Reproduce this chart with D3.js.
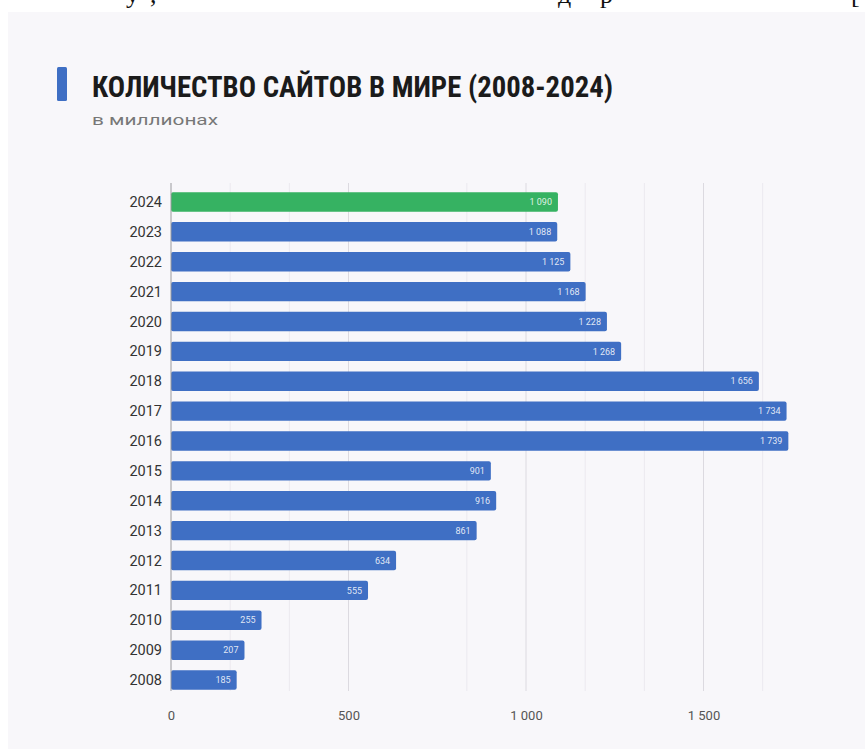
<!DOCTYPE html>
<html>
<head>
<meta charset="utf-8">
<script src="https://cdn.jsdelivr.net/npm/d3@7"></script>
<style>
  html, body { margin: 0; padding: 0; background: #fff; }
  svg { display: block; }
</style>
</head>
<body>
<div id="graph"></div>
<script>
var years = ["2024", "2023", "2022", "2021", "2020", "2019", "2018", "2017", "2016",
             "2015", "2014", "2013", "2012", "2011", "2010", "2009", "2008"];
var sites = [1090, 1088, 1125, 1168, 1228, 1268, 1656, 1734, 1739,
             901, 916, 861, 634, 555, 255, 207, 185];
var xTicks = [0, 500, 1000, 1500];
var gridMinor = [500 / 3, 1000 / 3, 2500 / 3, 3500 / 3, 4000 / 3, 5000 / 3];
var highlightYear = "2024";
var title = "КОЛИЧЕСТВО САЙТОВ В МИРЕ (2008-2024)",
	subtitle = "в миллионах";

var SVGwidth = 865,
	SVGheight = 749;

var ru = d3.formatLocale({decimal: ",", thousands: "\u00a0", grouping: [3], currency: ["", ""]});
var fmt = ru.format(",d");

var svg = d3.select('div#graph')
	.append('svg')
	.attr('width', SVGwidth)
	.attr('height', SVGheight);

// panel background
svg.append("rect")
	.attr("x", 8).attr("y", 12)
	.attr("width", SVGwidth - 8).attr("height", SVGheight - 12)
	.attr("fill", "#f8f7fa");

// cut-off text line from the page above
var topText = [["у", 126], [",", 150], ["д", 558], ["р", 600], ["[", 851]];
svg.selectAll("text.cut")
	.data(topText)
	.enter().append("text")
	.attr("class", "cut")
	.attr("x", function(d) { return d[1]; })
	.attr("y", 3)
	.attr("font-family", "Liberation Serif, serif")
	.attr("font-size", 26)
	.attr("fill", "#111")
	.text(function(d) { return d[0]; });

// title
svg.append("rect")
	.attr("x", 57).attr("y", 67)
	.attr("width", 10).attr("height", 34)
	.attr("rx", 1.5)
	.attr("fill", "#3f6fc4");

svg.append("text")
	.attr("x", 92).attr("y", 97)
	.attr("font-family", "'Roboto Condensed', 'Liberation Sans Narrow', 'DejaVu Sans Condensed', Roboto, sans-serif")
	.attr("font-weight", "bold")
	.attr("font-size", 30)
	.attr("fill", "#1b1b1b")
	.attr("textLength", 521)
	.attr("lengthAdjust", "spacingAndGlyphs")
	.text(title);

svg.append("text")
	.attr("x", 92).attr("y", 125)
	.attr("font-family", "Roboto, sans-serif")
	.attr("font-size", 15)
	.attr("fill", "#777")
	.attr("textLength", 126)
	.attr("lengthAdjust", "spacingAndGlyphs")
	.text(subtitle);

var x = d3.scaleLinear()
	.domain([0, 1900])
	.range([171, 171 + 1900 * 0.355]);

var y = d3.scaleBand()
	.domain(years)
	.range([187, 695])
	.paddingInner(0.35)
	.paddingOuter(0.175);

var gridTop = 183, gridBottom = 691;

// gridlines
svg.append("g")
	.selectAll("line")
	.data(gridMinor)
	.enter().append("line")
	.attr("x1", function(d) { return x(d); })
	.attr("x2", function(d) { return x(d); })
	.attr("y1", gridTop).attr("y2", gridBottom)
	.attr("stroke", "#ebe9ef")
	.attr("stroke-width", 1);

svg.append("g")
	.selectAll("line")
	.data(xTicks.slice(1))
	.enter().append("line")
	.attr("x1", function(d) { return x(d); })
	.attr("x2", function(d) { return x(d); })
	.attr("y1", gridTop).attr("y2", gridBottom)
	.attr("stroke", "#dcdae0")
	.attr("stroke-width", 1);

// bars
var data = years.map(function(yr, i) { return {year: yr, value: sites[i]}; });

svg.append("g")
	.selectAll("rect")
	.data(data)
	.enter().append("rect")
	.attr("x", x(0))
	.attr("y", function(d) { return y(d.year); })
	.attr("width", function(d) { return x(d.value) - x(0); })
	.attr("height", y.bandwidth())
	.attr("rx", 2)
	.attr("fill", function(d) { return d.year === highlightYear ? "#36b262" : "#3f6fc4"; });

svg.append("g")
	.selectAll("text")
	.data(data)
	.enter().append("text")
	.attr("x", function(d) { return x(d.value) - 6; })
	.attr("y", function(d) { return y(d.year) + y.bandwidth() / 2; })
	.attr("dy", "0.35em")
	.attr("text-anchor", "end")
	.attr("font-family", "Roboto, sans-serif")
	.attr("font-size", 9)
	.attr("fill", "#fff")
	.attr("fill-opacity", 0.85)
	.text(function(d) { return fmt(d.value); });

// y axis line + labels
svg.append("line")
	.attr("x1", x(0)).attr("x2", x(0))
	.attr("y1", gridTop).attr("y2", gridBottom)
	.attr("stroke", "#9a9a9e")
	.attr("stroke-width", 1);

svg.append("g")
	.selectAll("text")
	.data(years)
	.enter().append("text")
	.attr("x", 162)
	.attr("y", function(d) { return y(d) + y.bandwidth() / 2; })
	.attr("dy", "0.35em")
	.attr("text-anchor", "end")
	.attr("font-family", "Roboto, sans-serif")
	.attr("font-size", 14.5)
	.attr("fill", "#333")
	.text(function(d) { return d; });

// x axis labels
var xAxis = d3.axisBottom(x)
	.tickValues(xTicks)
	.tickSize(0)
	.tickPadding(0)
	.tickFormat(fmt);

var gx = svg.append("g")
	.attr("transform", "translate(0," + 711 + ")")
	.call(xAxis);
gx.select(".domain").remove();
gx.selectAll("text")
	.attr("font-family", "Roboto, sans-serif")
	.attr("font-size", 13)
	.attr("fill", "#555");
</script>
</body>
</html>
